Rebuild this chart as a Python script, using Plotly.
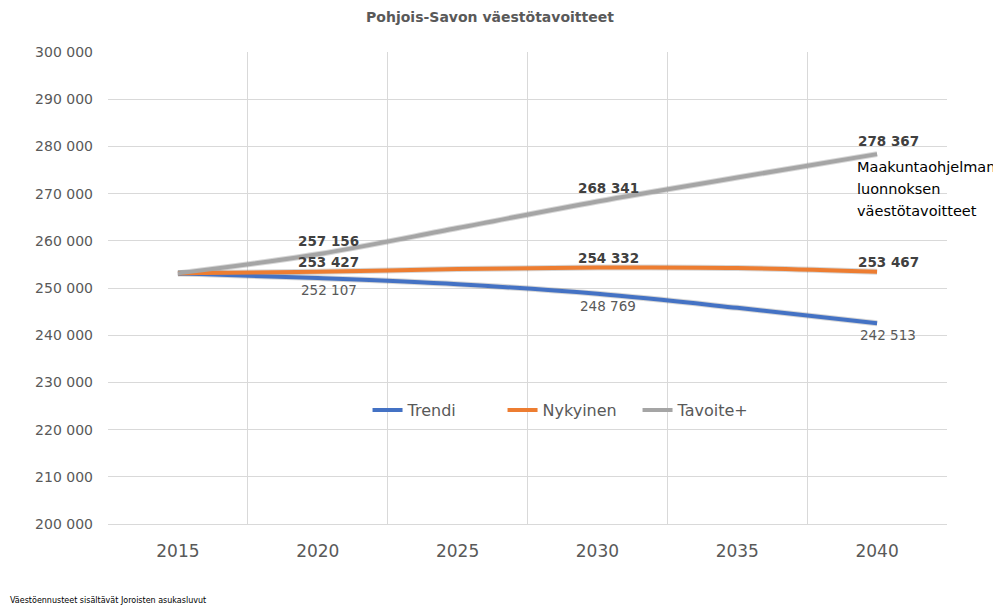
import plotly.graph_objects as go

years = ["2015", "2020", "2025", "2030", "2035", "2040"]
trendi = [253100, 252107, 250800, 248769, 245800, 242513]
nykyinen = [253100, 253427, 254000, 254332, 254250, 253467]
tavoite = [253100, 257156, 262700, 268341, 273400, 278367]
label_idx = [1, 3, 5]
note_lines = ["Maakuntaohjelman", "luonnoksen", "väestötavoitteet"]
y_ticks = list(range(200000, 300001, 10000))

def fmt(v):
    return f"{v:,}".replace(",", " ")

xs = list(range(len(years)))
bounds = [i - 0.5 for i in range(len(years) + 1)]

fig = go.Figure()
series = [
    ("Trendi", trendi, "#4472C4"),
    ("Nykyinen", nykyinen, "#ED7D31"),
    ("Tavoite+", tavoite, "#A5A5A5"),
]
for name, vals, col in series:
    fig.add_trace(go.Scatter(x=xs, y=vals, mode="lines",
                             line=dict(color="rgba(0,0,0,0.16)", width=6, shape="spline"),
                             showlegend=False, hoverinfo="skip"))
for name, vals, col in series:
    fig.add_trace(go.Scatter(x=xs, y=vals, mode="lines", name=name,
                             line=dict(color=col, width=4, shape="spline")))

fig.add_trace(go.Scatter(x=[bounds[0], bounds[-1]], y=[250000, 250000], xaxis="x2", mode="lines",
                         line=dict(width=0), showlegend=False, hoverinfo="skip"))

F = "DejaVu Sans, sans-serif"
for i in label_idx:
    fig.add_annotation(x=xs[i], y=tavoite[i], text=f"<b>{fmt(tavoite[i])}</b>", showarrow=False,
                       yshift=13, xshift=11, font=dict(size=13.5, color="#404040", family=F))
    fig.add_annotation(x=xs[i], y=nykyinen[i], text=f"<b>{fmt(nykyinen[i])}</b>", showarrow=False,
                       yshift=10, xshift=11, font=dict(size=13.5, color="#404040", family=F))
    fig.add_annotation(x=xs[i], y=trendi[i], text=fmt(trendi[i]), showarrow=False,
                       yshift=-12, xshift=11, font=dict(size=13.5, color="#595959", family=F))

for k, line in enumerate(note_lines):
    fig.add_annotation(x=xs[5], y=tavoite[5], text=line, showarrow=False, xanchor="left", yanchor="middle",
                       xshift=-22, yshift=-13 - 22 * k,
                       font=dict(size=14.5, color="#000000", family=F))

fig.add_annotation(xref="paper", yref="paper", x=-0.1192, y=-0.148, xanchor="left", yanchor="top",
                   text="Väestöennusteet sisältävät Joroisten asukasluvut", showarrow=False,
                   font=dict(size=8, color="#000000", family=F))

# page body has an 8px margin, so the figure is sized/offset to land on the 1001x606 frame
fig.update_layout(
    width=993, height=598,
    margin=dict(l=100, r=54, t=44, b=82, autoexpand=False),
    paper_bgcolor="white", plot_bgcolor="white",
    title=dict(text="<b>Pohjois-Savon väestötavoitteet</b>", x=0.4854, xanchor="center", y=0.985, yanchor="middle",
               font=dict(size=14, color="#595959", family=F), automargin=False),
    legend=dict(orientation="h", x=0.5507, y=0.2415, xanchor="center", yanchor="middle",
                font=dict(size=16, color="#595959", family=F), bgcolor="rgba(0,0,0,0)",
                entrywidth=90, entrywidthmode="pixels"),
    xaxis=dict(range=[bounds[0], bounds[-1]], tickvals=xs, ticktext=years, showgrid=False, zeroline=False,
               ticks="", showline=True, linecolor="#D9D9D9", linewidth=1, automargin=False,
               tickfont=dict(size=17, color="#595959", family=F), ticklabelstandoff=12),
    xaxis2=dict(overlaying="x", range=[bounds[0], bounds[-1]], tickvals=bounds, showticklabels=False,
                showgrid=True, gridcolor="#D9D9D9", gridwidth=1, zeroline=False, ticks="", side="bottom",
                layer="below traces", automargin=False),
    yaxis=dict(range=[200000, 300000], tickvals=y_ticks, ticktext=[fmt(v) for v in y_ticks],
               showgrid=True, gridcolor="#D9D9D9", gridwidth=1, zeroline=False, showline=False,
               automargin=False,
               tickfont=dict(size=14, color="#595959", family=F), ticklabelstandoff=14),
)

fig.write_html("out.html")
